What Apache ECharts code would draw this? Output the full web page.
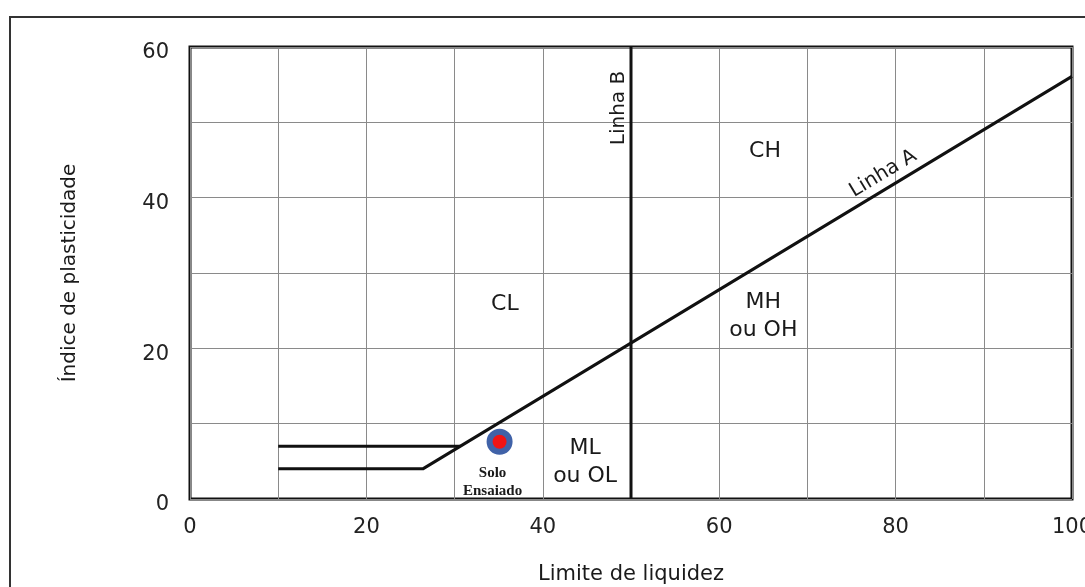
<!DOCTYPE html>
<html>
<head>
<meta charset="utf-8">
<script src="https://cdn.jsdelivr.net/npm/echarts@6/dist/echarts.min.js"></script>
<style>html,body{margin:0;padding:0;background:#fff;}#c{width:1085px;height:587px;}</style>
</head>
<body>
<div id="c"></div>
<script>
// ---- data ----
const xTickLabels = [0, 20, 40, 60, 80, 100];
const yTickLabels = [0, 20, 40, 60];
const lineA_LL = [10, 26.4, 100];
const lineA_PI = [4, 4, 56.1];
const upper_LL = [10, 30.65];
const upper_PI = [7, 7];
const lineB_LL = [50, 50];
const lineB_PI = [0, 60];
const sampleName = 'Solo\nEnsaiado';
const sampleLL = [35.1];
const samplePI = [7.6];
const zoneNames = ['CL', 'CH', 'MH\nou OH', 'ML\nou OL'];
const zoneLL = [35.7, 65.2, 65.0, 44.8];
const zonePI = [25.8, 46.1, 24.2, 4.9];
const lineNames = ['Linha B', 'Linha A'];
const lineNameLL = [48.6, 78.6];
const lineNamePI = [51.9, 43.2];
const lineNameRot = [90, 31];

const zip = (a, b) => a.map((v, i) => [v, b[i]]);
const FONT = 'DejaVu Sans';

const chart = echarts.init(document.getElementById('c'), null, {renderer: 'canvas'});
chart.setOption({
  animation: false,
  backgroundColor: '#ffffff',
  graphic: [{
    type: 'rect', shape: {x: 10, y: 17, width: 1100, height: 620},
    style: {fill: 'none', stroke: '#333', lineWidth: 2}, silent: true, z: -10
  }],
  grid: {left: 190, top: 47, right: 13, bottom: 88, show: true, outerBoundsMode: 'none',
         borderColor: '#111', borderWidth: 3, backgroundColor: 'transparent'},
  xAxis: {
    type: 'value', min: 0, max: 100, interval: 10,
    name: 'Limite de liquidez', nameLocation: 'middle', nameGap: 65,
    nameTextStyle: {fontFamily: FONT, fontSize: 21, color: '#1a1a1a'},
    axisLine: {show: false}, axisTick: {show: false},
    axisLabel: {fontFamily: FONT, fontSize: 21, color: '#222', margin: 18,
      formatter: v => xTickLabels.includes(v) ? String(v) : ''},
    splitLine: {show: true, lineStyle: {color: '#8a8a8a', width: 1}}
  },
  yAxis: {
    type: 'value', min: 0, max: 60, interval: 10,
    name: 'Índice de plasticidade', nameLocation: 'middle', nameGap: 110, nameRotate: 90,
    nameTextStyle: {fontFamily: FONT, fontSize: 20, color: '#1a1a1a'},
    axisLine: {show: false}, axisTick: {show: false},
    axisLabel: {fontFamily: FONT, fontSize: 21, color: '#222', margin: 21,
      verticalAlign: 'top', lineHeight: 12,
      formatter: v => yTickLabels.includes(v) ? String(v) : ''},
    splitLine: {show: true, lineStyle: {color: '#8a8a8a', width: 1}}
  },
  series: [
    {type: 'line', data: zip(lineA_LL, lineA_PI), symbol: 'none',
     lineStyle: {color: '#111', width: 3}, z: 5},
    {type: 'line', data: zip(upper_LL, upper_PI), symbol: 'none',
     lineStyle: {color: '#111', width: 3}, z: 5},
    {type: 'line', data: zip(lineB_LL, lineB_PI), symbol: 'none',
     lineStyle: {color: '#111', width: 3}, z: 5},
    {type: 'scatter', data: zip(sampleLL, samplePI).map(d => ({name: sampleName, value: d})),
     symbolSize: 20,
     itemStyle: {color: '#f01414', borderColor: '#4062a8', borderWidth: 6, opacity: 1},
     label: {show: true, position: 'bottom', distance: 9, offset: [-7, 0],
       formatter: p => p.name, fontFamily: 'Liberation Serif', fontWeight: 'bold',
       fontSize: 15, lineHeight: 18, color: '#1a1a1a', align: 'center'}, z: 10},
    {type: 'scatter', data: zip(zoneLL, zonePI).map((d, i) => ({name: zoneNames[i], value: d})),
     symbolSize: 0, silent: true, itemStyle: {opacity: 1},
     label: {show: true, position: 'inside', formatter: p => p.name,
       fontFamily: FONT, fontSize: 22, lineHeight: 28, color: '#1a1a1a', align: 'center'}, z: 8},
    {type: 'scatter', data: zip(lineNameLL, lineNamePI).map((d, i) => ({name: lineNames[i], value: d,
       label: {rotate: lineNameRot[i]}})),
     symbolSize: 0, silent: true, itemStyle: {opacity: 1},
     label: {show: true, position: 'inside', formatter: p => p.name,
       fontFamily: FONT, fontSize: 20, color: '#1a1a1a'}, z: 8}
  ]
});
</script>
</body>
</html>
